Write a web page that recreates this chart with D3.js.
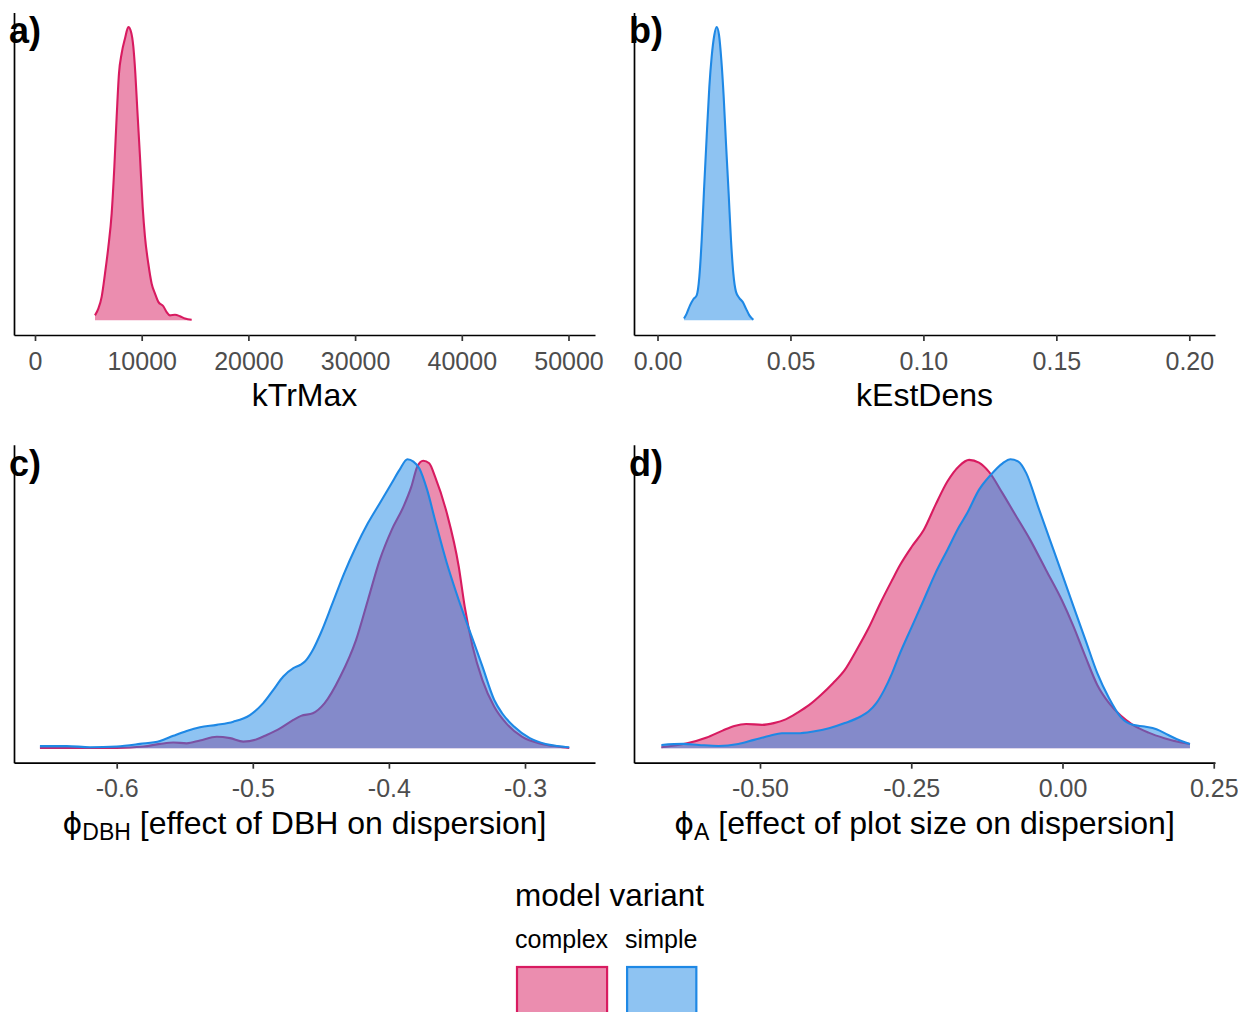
<!DOCTYPE html>
<html><head><meta charset="utf-8">
<script src="https://cdn.jsdelivr.net/npm/d3@7"></script>
<style>
body{margin:0;background:#fff;}
svg text{font-family:"Liberation Sans",Arial,Helvetica,sans-serif;}
</style></head><body>
<svg id="chart" width="1238" height="1012"></svg>
<script>
// ---------------- data ----------------
const seriesNames = ["complex", "simple"];
const seriesColors = ["#D81B60", "#1E88E5"];

// [value, relative density]
const complexA = [[5623,0.017],[5936,0.040],[6248,0.080],[6560,0.159],[6873,0.250],[7185,0.364],[7435,0.523],[7654,0.694],[7872,0.842],[8122,0.910],[8435,0.961],[8747,1.0],[8997,0.984],[9216,0.933],[9403,0.842],[9591,0.717],[9841,0.557],[10091,0.387],[10309,0.284],[10622,0.193],[10934,0.125],[11247,0.091],[11559,0.063],[12028,0.048],[12340,0.028],[12652,0.017],[13121,0.019],[13590,0.014],[14058,0.006],[14683,0.002]];

const simpleB = [[0.00997,0.006],[0.01097,0.023],[0.01222,0.051],[0.01348,0.072],[0.01473,0.085],[0.01573,0.148],[0.01661,0.273],[0.01749,0.444],[0.01849,0.626],[0.01949,0.796],[0.02037,0.899],[0.02137,0.973],[0.02225,1.0],[0.02313,0.973],[0.02401,0.887],[0.02489,0.762],[0.02576,0.603],[0.02676,0.432],[0.02764,0.273],[0.02852,0.159],[0.02952,0.097],[0.03077,0.076],[0.03203,0.063],[0.03328,0.040],[0.03454,0.017],[0.03604,0.002]];

const complexC = [[-0.6564,0.001],[-0.62,0.001],[-0.60,0.001],[-0.5804,0.006],[-0.5682,0.015],[-0.5584,0.020],[-0.5486,0.017],[-0.5388,0.027],[-0.5265,0.040],[-0.5167,0.035],[-0.5070,0.023],[-0.4971,0.031],[-0.4898,0.046],[-0.4800,0.069],[-0.4702,0.098],[-0.4646,0.112],[-0.4559,0.121],[-0.4472,0.156],[-0.4357,0.248],[-0.4241,0.375],[-0.4154,0.513],[-0.4067,0.652],[-0.3980,0.755],[-0.3893,0.836],[-0.3835,0.905],[-0.3791,0.975],[-0.3748,0.995],[-0.3704,0.986],[-0.3661,0.940],[-0.3574,0.813],[-0.3487,0.629],[-0.3443,0.490],[-0.3385,0.352],[-0.3313,0.236],[-0.3226,0.144],[-0.3139,0.087],[-0.3023,0.040],[-0.2878,0.015],[-0.2762,0.006],[-0.2675,0.001]];

const simpleC = [[-0.6564,0.008],[-0.6367,0.008],[-0.6196,0.0035],[-0.6,0.006],[-0.5829,0.015],[-0.5682,0.025],[-0.5584,0.043],[-0.5486,0.060],[-0.5388,0.073],[-0.5265,0.081],[-0.5143,0.092],[-0.5021,0.115],[-0.4923,0.156],[-0.4849,0.202],[-0.4776,0.248],[-0.4702,0.277],[-0.4653,0.288],[-0.4617,0.300],[-0.4559,0.340],[-0.4501,0.398],[-0.4414,0.502],[-0.4328,0.606],[-0.4241,0.698],[-0.4154,0.779],[-0.4067,0.848],[-0.3980,0.917],[-0.3922,0.963],[-0.3864,1.0],[-0.3820,0.992],[-0.3777,0.969],[-0.3719,0.894],[-0.3661,0.790],[-0.3574,0.640],[-0.3487,0.513],[-0.3400,0.398],[-0.3313,0.283],[-0.3226,0.167],[-0.3168,0.121],[-0.3081,0.075],[-0.2965,0.035],[-0.2849,0.015],[-0.2762,0.008],[-0.2675,0.0035]];

const complexD = [[-0.6630,0.0035],[-0.6206,0.017],[-0.5880,0.037],[-0.5619,0.061],[-0.5424,0.077],[-0.5228,0.084],[-0.4967,0.081],[-0.4772,0.087],[-0.4576,0.100],[-0.4381,0.123],[-0.4185,0.150],[-0.3989,0.185],[-0.3794,0.225],[-0.3598,0.271],[-0.3403,0.340],[-0.3207,0.415],[-0.3011,0.502],[-0.2816,0.582],[-0.2685,0.634],[-0.2490,0.698],[-0.2294,0.755],[-0.2099,0.842],[-0.1903,0.923],[-0.1707,0.977],[-0.1544,0.998],[-0.1381,0.988],[-0.1218,0.957],[-0.0990,0.882],[-0.0795,0.813],[-0.0534,0.721],[-0.0273,0.617],[-0.0012,0.513],[0.0183,0.421],[0.0379,0.317],[0.0575,0.219],[0.0770,0.156],[0.0966,0.112],[0.1161,0.081],[0.1422,0.054],[0.1683,0.035],[0.1944,0.021],[0.2107,0.015]];

const simpleD = [[-0.6630,0.0115],[-0.6271,0.015],[-0.6011,0.0115],[-0.5685,0.008],[-0.5359,0.015],[-0.5098,0.029],[-0.4837,0.043],[-0.4641,0.052],[-0.4381,0.052],[-0.4120,0.058],[-0.3859,0.069],[-0.3598,0.087],[-0.3337,0.110],[-0.3207,0.127],[-0.3077,0.156],[-0.2946,0.202],[-0.2816,0.260],[-0.2685,0.329],[-0.2490,0.421],[-0.2294,0.513],[-0.2099,0.606],[-0.1903,0.686],[-0.1707,0.767],[-0.1577,0.813],[-0.1381,0.894],[-0.1186,0.946],[-0.0990,0.986],[-0.0860,1.0],[-0.0729,0.992],[-0.0599,0.952],[-0.0403,0.836],[-0.0208,0.721],[-0.0012,0.606],[0.0183,0.490],[0.0379,0.375],[0.0575,0.260],[0.0770,0.173],[0.0966,0.107],[0.1161,0.081],[0.1357,0.075],[0.1553,0.066],[0.1748,0.046],[0.1944,0.0265],[0.2107,0.015]];

const ticksA = [0, 10000, 20000, 30000, 40000, 50000];
const tickLabelsA = ["0", "10000", "20000", "30000", "40000", "50000"];
const ticksB = [0, 0.05, 0.10, 0.15, 0.20];
const tickLabelsB = ["0.00", "0.05", "0.10", "0.15", "0.20"];
const ticksC = [-0.6, -0.5, -0.4, -0.3];
const tickLabelsC = ["-0.6", "-0.5", "-0.4", "-0.3"];
const ticksD = [-0.5, -0.25, 0, 0.25];
const tickLabelsD = ["-0.50", "-0.25", "0.00", "0.25"];

const panelTags = ["a)", "b)", "c)", "d)"];
const legendTitle = "model variant";

// ---------------- layout ----------------
const svg = d3.select("#chart");
const cols = [[14, 595], [634, 1215]];
const rows = [[12.4, 335], [444.8, 762.7]];

const panels = [
  {tag: panelTags[0], col: 0, row: 0, xDomain: [-1968, 52484], ticks: ticksA, labels: tickLabelsA,
   series: [{i: 0, data: complexA}], title: {main: "kTrMax"}},
  {tag: panelTags[1], col: 1, row: 0, xDomain: [-0.00884, 0.20966], ticks: ticksB, labels: tickLabelsB,
   series: [{i: 1, data: simpleB}], title: {main: "kEstDens"}},
  {tag: panelTags[2], col: 0, row: 1, xDomain: [-0.67546, -0.24857], ticks: ticksC, labels: tickLabelsC,
   series: [{i: 0, data: complexC}, {i: 1, data: simpleC}],
   title: {sym: "\u03D5", sub: "DBH", main: " [effect of DBH on dispersion]"}},
  {tag: panelTags[3], col: 1, row: 1, xDomain: [-0.70826, 0.25207], ticks: ticksD, labels: tickLabelsD,
   series: [{i: 0, data: complexD}, {i: 1, data: simpleD}],
   title: {sym: "\u03D5", sub: "A", main: " [effect of plot size on dispersion]"}}
];

const TITLE_SIZE = 32, TICK_SIZE = 25;

panels.forEach(p => {
  const [x0, x1] = cols[p.col];
  const [yTop, yBot] = rows[p.row];
  const x = d3.scaleLinear().domain(p.xDomain).range([x0, x1]);
  const ymax = d3.max(p.series, s => d3.max(s.data, d => d[1]));
  const y = d3.scaleLinear().domain([-0.05 * ymax, 1.05 * ymax]).range([yBot, yTop]);
  const g = svg.append("g");

  const area = d3.area().x(d => x(d[0])).y0(y(0)).y1(d => y(d[1])).curve(d3.curveMonotoneX);
  const line = d3.line().x(d => x(d[0])).y(d => y(d[1])).curve(d3.curveMonotoneX);

  p.series.forEach(s => {
    const c = seriesColors[s.i];
    g.append("path").datum(s.data).attr("d", area)
      .attr("fill", c).attr("fill-opacity", 0.5).attr("stroke", "none");
    g.append("path").datum(s.data).attr("d", line)
      .attr("fill", "none").attr("stroke", c).attr("stroke-width", 2.1)
      .attr("stroke-linejoin", "round");
  });

  // x axis
  const ax = g.append("g").attr("transform", `translate(0,${yBot})`)
    .call(d3.axisBottom(x).tickValues(p.ticks).tickFormat((d, i) => p.labels[i])
      .tickSize(6).tickSizeOuter(0).tickPadding(11));
  ax.select(".domain").attr("stroke", "#000").attr("stroke-width", 1.7);
  ax.selectAll(".tick line").attr("stroke", "#333").attr("stroke-width", 1.7);
  ax.selectAll(".tick text").attr("fill", "#4D4D4D").style("font-size", TICK_SIZE + "px")
    .attr("font-family", null);

  // y axis (line only)
  const ay = g.append("g").attr("transform", `translate(${x0},0)`)
    .call(d3.axisLeft(y).tickValues([]).tickSizeOuter(0));
  ay.select(".domain").attr("stroke", "#000").attr("stroke-width", 1.7);

  // axis title
  const t = g.append("text").attr("x", (x0 + x1) / 2).attr("y", yBot + 71)
    .attr("text-anchor", "middle").style("font-size", TITLE_SIZE + "px").attr("fill", "#000");
  if (p.title.sym) {
    t.append("tspan").text(p.title.sym).style("font-family", "'DejaVu Sans'").style("font-size", "30px");
    t.append("tspan").text(p.title.sub).style("font-size", "23px").attr("dy", 6);
    t.append("tspan").text(p.title.main).attr("dy", -6);
  } else {
    t.text(p.title.main);
  }

  // tag
  g.append("text").attr("x", x0 - 5).attr("y", yTop + 31)
    .style("font-size", "36px").style("font-weight", "bold").attr("fill", "#000").text(p.tag);
});

// ---------------- legend ----------------
const lg = svg.append("g");
lg.append("text").attr("x", 515).attr("y", 906).style("font-size", "31.5px")
  .attr("fill", "#000").text(legendTitle);
let lx = 515;
seriesNames.forEach((name, i) => {
  const tx = lg.append("text").attr("x", lx).attr("y", 948).style("font-size", TICK_SIZE + "px")
    .attr("fill", "#000").text(name);
  const w = tx.node().getComputedTextLength();
  lg.append("rect").attr("x", lx + 2).attr("y", 967).attr("width", w - 3).attr("height", 60)
    .attr("fill", seriesColors[i]).attr("fill-opacity", 0.5)
    .attr("stroke", seriesColors[i]).attr("stroke-width", 2.2);
  lx += w + 17;
});
</script>
</body></html>
